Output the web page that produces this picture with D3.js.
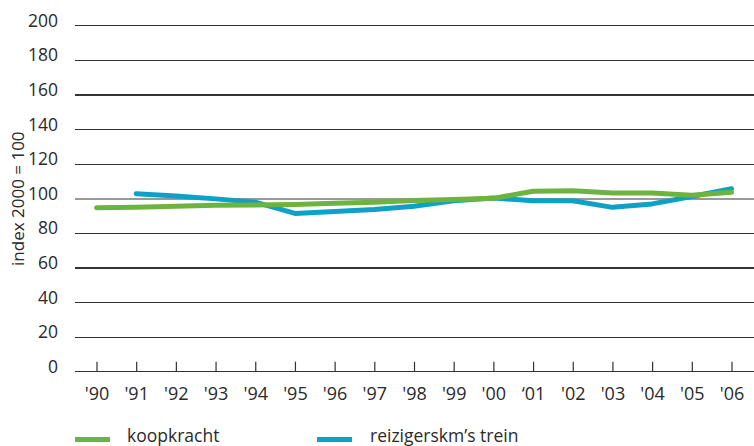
<!DOCTYPE html>
<html>
<head>
<meta charset="utf-8">
<script src="https://cdn.jsdelivr.net/npm/d3@7/dist/d3.min.js"></script>
<style>
  html, body { margin: 0; padding: 0; background: #fff; }
  svg { display: block; font-family: "Open Sans", "Noto Sans", sans-serif; }
</style>
</head>
<body>
<svg id="chart" width="754" height="446"></svg>
<script>
// Years along the x axis
const years = ["'90","'91","'92","'93","'94","'95","'96","'97","'98","'99","'00","\u201801","'02","'03","'04","'05","'06"];
// Purchasing power index (2000 = 100)
const koopkracht = [94.8, 95.0, 95.6, 96.2, 96.3, 96.6, 97.3, 98.0, 99.0, 99.5, 100.2, 104.3, 104.6, 103.3, 103.3, 102.0, 103.7];
// Train passenger-kilometres index (2000 = 100), from '91
const reizigerskm = [null, 102.9, 101.6, 99.9, 98.0, 91.5, 92.6, 93.8, 95.6, 98.8, 100.4, 98.8, 98.8, 95.0, 97.0, 101.3, 105.8];
const yTicks = [0, 20, 40, 60, 80, 100, 120, 140, 160, 180, 200];
const seriesNames = ["koopkracht", "reizigerskm\u2019s trein"];
const seriesColors = ["#6db33f", "#0fa0c8"];

const svg = d3.select("#chart");
const gridLeft = 75, gridRight = 754;

const x = d3.scalePoint().domain(years).range([96.5, 731.5]);
const y = d3.scaleLinear().domain([0, 200]).range([371.7, 25.7]);

// Horizontal gridlines
svg.append("g").selectAll("line")
  .data(yTicks)
  .join("line")
  .attr("x1", gridLeft).attr("x2", gridRight)
  .attr("y1", d => y(d)).attr("y2", d => y(d))
  .attr("stroke", d => d === 100 ? "#999" : "#333")
  .attr("stroke-width", d => d === 100 ? 2.2 : 1.2)
  .attr("shape-rendering", "crispEdges");

// Y tick labels
svg.append("g").selectAll("text")
  .data(yTicks)
  .join("text")
  .attr("x", 58)
  .attr("y", d => y(d) - 5)
  .attr("dy", "0.35em")
  .attr("text-anchor", "end")
  .attr("font-size", 17.5)
  .attr("fill", "#2a2a2a")
  .text(d => d);

// Y axis title
svg.append("text")
  .attr("transform", `translate(24,${y(100)}) rotate(-90)`)
  .attr("text-anchor", "middle")
  .attr("font-size", 17)
  .attr("fill", "#2a2a2a")
  .text("index 2000 = 100");

// X axis ticks and labels
const xAxis = d3.axisBottom(x).tickSize(-10).tickPadding(16);
const gx = svg.append("g")
  .attr("transform", `translate(0,${y(0)})`)
  .call(xAxis);
gx.select(".domain").remove();
gx.selectAll(".tick line").attr("stroke", "#333").attr("stroke-width", 1.2);
gx.selectAll(".tick text")
  .attr("font-size", 18)
  .attr("fill", "#2a2a2a")
  .attr("font-family", "\"Open Sans\", \"Noto Sans\", sans-serif");

// Lines
const line = d3.line()
  .defined(d => d.v !== null)
  .x(d => x(d.year))
  .y(d => y(d.v));

const series = [koopkracht, reizigerskm];
// draw train line first so the purchasing power line sits on top where they cross
[1, 0].forEach(i => {
  svg.append("path")
    .datum(series[i].map((v, j) => ({ year: years[j], v })))
    .attr("fill", "none")
    .attr("stroke", seriesColors[i])
    .attr("stroke-width", 5)
    .attr("stroke-linecap", "round")
    .attr("stroke-linejoin", "round")
    .attr("d", line);
});

// Legend
const legendX = [75, 317];
const legend = svg.append("g").selectAll("g")
  .data(seriesNames)
  .join("g")
  .attr("transform", (d, i) => `translate(${legendX[i]},439.5)`);
legend.append("rect")
  .attr("x", 0).attr("y", -2.5)
  .attr("width", 35).attr("height", 5)
  .attr("fill", (d, i) => seriesColors[i]);
legend.append("text")
  .attr("x", (d, i) => i === 0 ? 52 : 53)
  .attr("y", -4)
  .attr("dy", "0.35em")
  .attr("font-size", 17.5)
  .attr("fill", "#2a2a2a")
  .text(d => d);
</script>
</body>
</html>
